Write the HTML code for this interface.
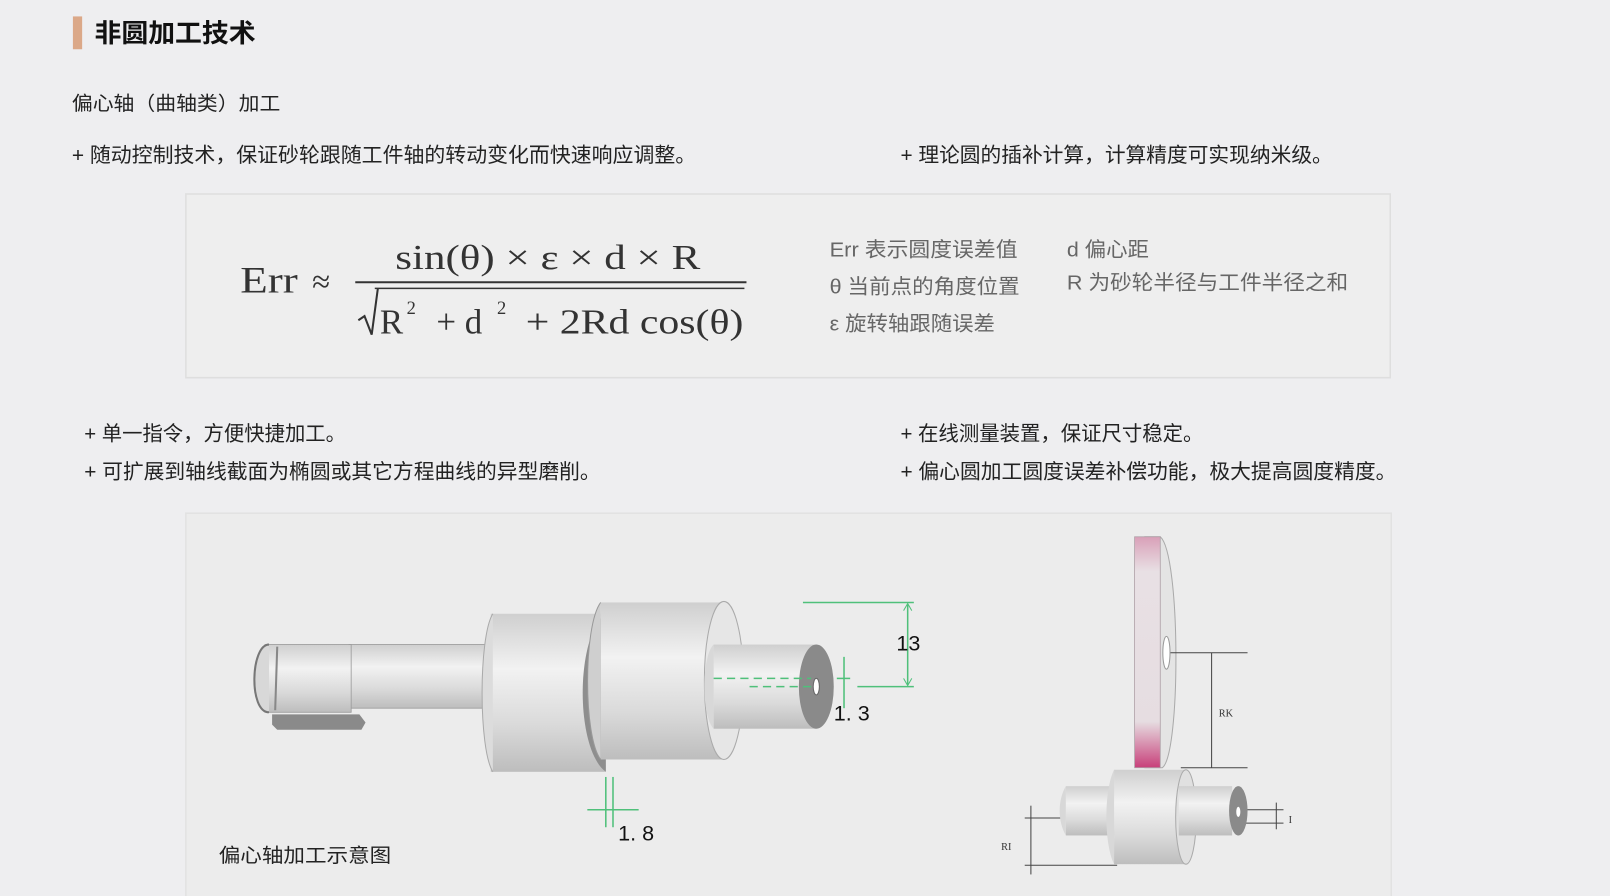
<!DOCTYPE html>
<html><head><meta charset="utf-8"><style>
html,body{margin:0;padding:0;background:#eeeef0;}
svg{display:block}
.cn{font-family:"Liberation Sans","Noto Sans CJK SC",sans-serif;}
.m{font-family:"Liberation Serif","DejaVu Serif",serif;fill:#333;}
</style></head><body>
<svg width="1610" height="896" viewBox="0 0 1568 873" preserveAspectRatio="none" xmlns="http://www.w3.org/2000/svg">
<defs>
<linearGradient id="cyl" x1="0" y1="0" x2="0" y2="1">
<stop offset="0" stop-color="#cfcfcf"/><stop offset="0.35" stop-color="#f2f2f2"/><stop offset="0.7" stop-color="#dadada"/><stop offset="1" stop-color="#bdbdbd"/></linearGradient>
<linearGradient id="pink" x1="0" y1="0" x2="0" y2="1">
<stop offset="0" stop-color="#d9a0b8"/><stop offset="0.15" stop-color="#e8e0e4"/><stop offset="0.8" stop-color="#e6dde1"/><stop offset="1" stop-color="#c8407a"/></linearGradient>
</defs>
<rect width="1568" height="873" fill="#eeeef0"/>
<rect x="71" y="16" width="9" height="32" fill="#dba888"/>
<text class="cn" x="92" y="41" font-size="25" font-weight="bold" fill="#111" textLength="157" lengthAdjust="spacingAndGlyphs">非圆加工技术</text>
<text class="cn" x="70" y="107" font-size="19" fill="#222" textLength="203" lengthAdjust="spacingAndGlyphs">偏心轴（曲轴类）加工</text>
<g class="cn" font-size="20" fill="#222">
<text x="70" y="158" textLength="608" lengthAdjust="spacingAndGlyphs">+ 随动控制技术，保证砂轮跟随工件轴的转动变化而快速响应调整。</text>
<text x="877" y="158" textLength="421" lengthAdjust="spacingAndGlyphs">+ 理论圆的插补计算，计算精度可实现纳米级。</text>
<text x="82" y="429" textLength="255" lengthAdjust="spacingAndGlyphs">+ 单一指令，方便快捷加工。</text>
<text x="82" y="466" textLength="503" lengthAdjust="spacingAndGlyphs">+ 可扩展到轴线截面为椭圆或其它方程曲线的异型磨削。</text>
<text x="877" y="429" textLength="295" lengthAdjust="spacingAndGlyphs">+ 在线测量装置，保证尺寸稳定。</text>
<text x="877" y="466" textLength="483" lengthAdjust="spacingAndGlyphs">+ 偏心圆加工圆度误差补偿功能，极大提高圆度精度。</text>
</g>
<!-- formula box -->
<rect x="181" y="189" width="1173" height="179" fill="#eeeeee" stroke="#dedede" stroke-width="1.5"/>
<text class="m" x="234" y="285" font-size="36" textLength="56" lengthAdjust="spacingAndGlyphs">Err</text>
<text class="m" x="304" y="285" font-size="32">≈</text>
<text class="m" x="385" y="262" font-size="34" textLength="297" lengthAdjust="spacingAndGlyphs">sin(θ) × ε × d  × R</text>
<line x1="346" y1="275" x2="727" y2="275" stroke="#333" stroke-width="2"/>
<line x1="365" y1="281" x2="725" y2="281" stroke="#333" stroke-width="1.5"/>
<path d="M349 312 L355 308 L362 326 L368 281" fill="none" stroke="#333" stroke-width="2"/>
<text class="m" x="370" y="325" font-size="34">R</text>
<text class="m" x="396" y="306" font-size="18">2</text>
<text class="m" x="425" y="325" font-size="34">+ d</text>
<text class="m" x="484" y="306" font-size="18">2</text>
<text class="m" x="512" y="325" font-size="34" textLength="212" lengthAdjust="spacingAndGlyphs">+ 2Rd  cos(θ)</text>
<g class="cn" font-size="20" fill="#666">
<text x="808" y="250" textLength="183" lengthAdjust="spacingAndGlyphs">Err 表示圆度误差值</text>
<text x="808" y="286" textLength="185" lengthAdjust="spacingAndGlyphs">θ 当前点的角度位置</text>
<text x="808" y="322" textLength="161" lengthAdjust="spacingAndGlyphs">ε 旋转轴跟随误差</text>
<text x="1039" y="250" textLength="80" lengthAdjust="spacingAndGlyphs">d 偏心距</text>
<text x="1039" y="282" textLength="274" lengthAdjust="spacingAndGlyphs">R 为砂轮半径与工件半径之和</text>
</g>
<!-- bottom box -->
<rect x="181" y="500" width="1174" height="380" fill="#ececec" stroke="#e2e2e2" stroke-width="1.5"/>
<!-- shaft -->
<path d="M265 696 L350 696 L356 704 L352 711 L270 711 L265 706 Z" fill="#8a8a8a"/>
<rect x="340" y="628" width="140" height="62" fill="url(#cyl)" stroke="#999" stroke-width="0.8"/>
<rect x="258" y="628" width="84" height="66" fill="url(#cyl)" stroke="#999" stroke-width="0.8"/>
<path d="M262 628 C244 628 242 694 262 694" fill="#d8d8d8" stroke="#777" stroke-width="2"/>
<line x1="270" y1="630" x2="268" y2="692" stroke="#888" stroke-width="2"/>
<rect x="478" y="598" width="112" height="154" fill="url(#cyl)"/>
<path d="M480 598 C466 620 466 730 480 752" fill="#dcdcdc" stroke="#aaa"/>
<path d="M590 598 C560 620 560 730 590 752 Z" fill="#8e8e8e"/>
<rect x="585" y="587" width="122" height="153" fill="url(#cyl)"/>
<path d="M585 587 C568 610 568 718 585 740" fill="#cfcfcf" stroke="#999"/>
<ellipse cx="705" cy="663" rx="19" ry="77" fill="#e6e6e6" stroke="#aaa"/>
<rect x="695" y="628" width="100" height="82" fill="url(#cyl)"/>
<path d="M695 628 C683 640 683 698 695 710" fill="#d8d8d8"/>
<ellipse cx="795" cy="669" rx="17" ry="41" fill="#8a8a8a"/>
<ellipse cx="795" cy="669" rx="3" ry="8" fill="#fff" stroke="#666"/>
<!-- green dims -->
<g stroke="#4fc07a" stroke-width="1.5" fill="none">
<line x1="782" y1="587" x2="890" y2="587"/>
<line x1="835" y1="669" x2="890" y2="669"/>
<line x1="884" y1="589" x2="884" y2="667"/>
<line x1="695" y1="661" x2="790" y2="661" stroke-dasharray="8,5"/>
<line x1="730" y1="669" x2="790" y2="669" stroke-dasharray="8,5"/>
<line x1="822" y1="640" x2="822" y2="690"/>
<line x1="815" y1="661" x2="828" y2="661"/>
<line x1="590" y1="757" x2="590" y2="806"/>
<line x1="597" y1="757" x2="597" y2="806"/>
<line x1="572" y1="789" x2="622" y2="789"/>
</g>
<path d="M880 595 L884 588 L888 595 M880 661 L884 668 L888 661" stroke="#4fc07a" fill="none"/>
<text x="873" y="634" font-family="Liberation Sans,sans-serif" font-size="21" fill="#111">13</text>
<text x="812" y="702" font-family="Liberation Sans,sans-serif" font-size="21" fill="#111">1. 3</text>
<text x="602" y="819" font-family="Liberation Sans,sans-serif" font-size="21" fill="#111">1. 8</text>
<text class="cn" x="213" y="840" font-size="19" fill="#222" textLength="168" lengthAdjust="spacingAndGlyphs">偏心轴加工示意图</text>
<!-- wheel -->
<path d="M1115 523 L1130 523 C1150 540 1150 735 1132 748 L1115 748 Z" fill="#e4e4e4" stroke="#aaa"/>
<rect x="1105" y="523" width="25" height="225" fill="url(#pink)" stroke="#b0a0a8" stroke-width="0.8"/>
<ellipse cx="1136" cy="636" rx="3.5" ry="16" fill="#fff" stroke="#999"/>
<g stroke="#444" stroke-width="1" fill="none">
<line x1="1140" y1="636" x2="1215" y2="636"/>
<line x1="1150" y1="748" x2="1215" y2="748"/>
<line x1="1180" y1="636" x2="1180" y2="748"/>
<line x1="1004" y1="785" x2="1004" y2="852"/>
<line x1="998" y1="797" x2="1035" y2="797"/>
<line x1="998" y1="843" x2="1088" y2="843"/>
<line x1="1210" y1="789" x2="1250" y2="789"/>
<line x1="1210" y1="802" x2="1250" y2="802"/>
<line x1="1243" y1="782" x2="1243" y2="808"/>
</g>
<text x="1187" y="698" font-family="Liberation Serif,serif" font-size="10" fill="#333">RK</text>
<text x="975" y="828" font-family="Liberation Serif,serif" font-size="10" fill="#333">RI</text>
<text x="1255" y="802" font-family="Liberation Serif,serif" font-size="10" fill="#333">I</text>
<rect x="1038" y="766" width="50" height="48" fill="url(#cyl)"/>
<path d="M1038 766 C1030 780 1030 800 1038 814" fill="#d8d8d8"/>
<rect x="1085" y="750" width="70" height="92" fill="url(#cyl)"/>
<path d="M1085 750 C1075 770 1075 822 1085 842" fill="#d8d8d8"/>
<ellipse cx="1155" cy="796" rx="10" ry="46" fill="#e0e0e0" stroke="#aaa"/>
<rect x="1148" y="766" width="52" height="48" fill="url(#cyl)"/>
<ellipse cx="1206" cy="790" rx="9" ry="24" fill="#8a8a8a"/>
<ellipse cx="1206" cy="791" rx="2" ry="5" fill="#fff"/>
</svg>
</body></html>
